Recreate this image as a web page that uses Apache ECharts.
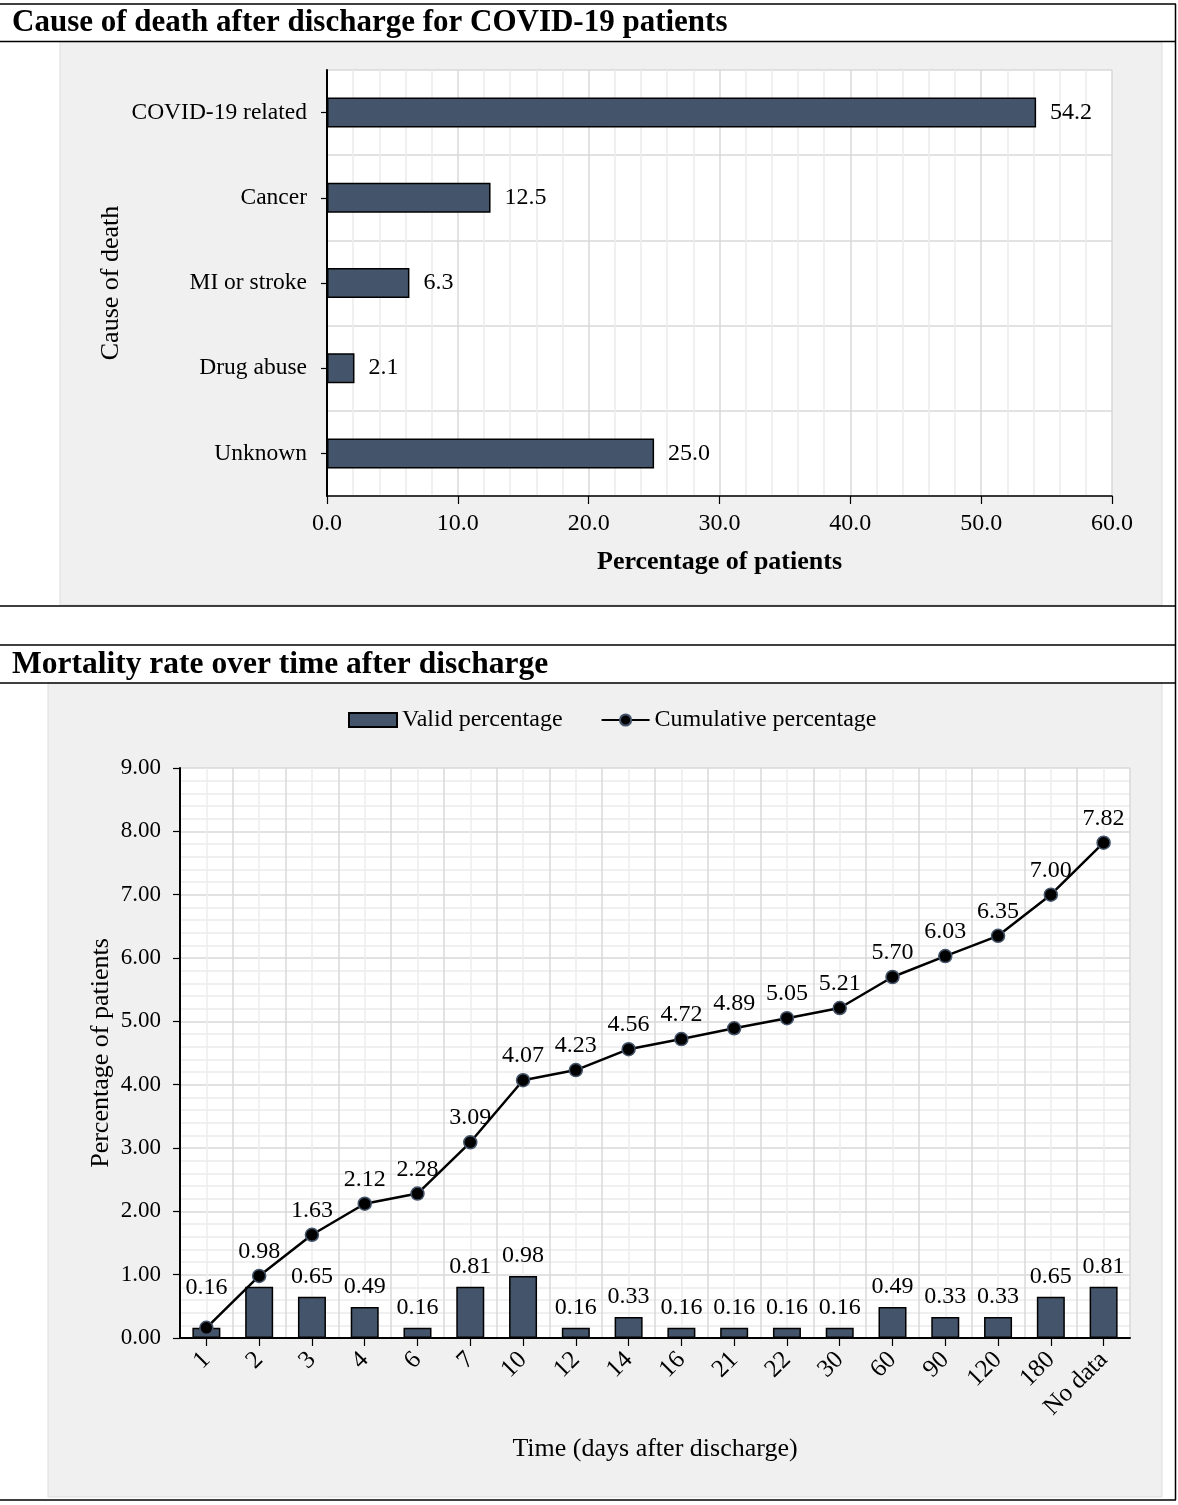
<!DOCTYPE html>
<html>
<head>
<meta charset="utf-8">
<script src="https://cdn.jsdelivr.net/npm/echarts@6/dist/echarts.min.js"></script>
<style>
html,body{margin:0;padding:0;background:#fff;}
#c{width:1178px;height:1505px;}
</style>
</head>
<body>
<div id="c"></div>
<script>
// ---- Data ----
const causeCategories = ['COVID-19 related', 'Cancer', 'MI or stroke', 'Drug abuse', 'Unknown'];
const causeValues = [54.2, 12.5, 6.3, 2.1, 25.0];
const causeTicks = [0, 10, 20, 30, 40, 50, 60];

const timeCategories = ['1', '2', '3', '4', '6', '7', '10', '12', '14', '16', '21', '22', '30', '60', '90', '120', '180', 'No data'];
const validPct = [0.16, 0.81, 0.65, 0.49, 0.16, 0.81, 0.98, 0.16, 0.33, 0.16, 0.16, 0.16, 0.16, 0.49, 0.33, 0.33, 0.65, 0.81];
const cumulativePct = [0.16, 0.98, 1.63, 2.12, 2.28, 3.09, 4.07, 4.23, 4.56, 4.72, 4.89, 5.05, 5.21, 5.70, 6.03, 6.35, 7.00, 7.82];
const mortalityTicks = [0, 1, 2, 3, 4, 5, 6, 7, 8, 9];

const FONT = '"Liberation Serif", "Times New Roman", serif';
const BAR = '#44546a';

const chart = echarts.init(document.getElementById('c'));

const barData = validPct.map((v, i) => {
  if (i === 0 || i === 1) return { value: v, label: { show: false } };
  return v;
});
const lineData = cumulativePct.map((v, i) => {
  if (i === 0) return { value: v, label: { distance: 21 } };
  return v;
});

const hline = (y) => ({ type: 'line', z: 100, shape: { x1: 0, y1: y, x2: 1176, y2: y }, style: { stroke: '#000', lineWidth: 1.5 } });

const option = {
  backgroundColor: '#fff',
  animation: false,
  textStyle: { fontFamily: FONT, color: '#000' },
  graphic: [
    { type: 'rect', z: -10, shape: { x: 60, y: 42, width: 1102, height: 563 }, style: { fill: '#f0f0f0', stroke: '#dddddd', lineWidth: 1 } },
    { type: 'rect', z: -10, shape: { x: 48, y: 683, width: 1114, height: 814 }, style: { fill: '#f0f0f0', stroke: '#dddddd', lineWidth: 1 } },
    hline(4), hline(41.5), hline(606), hline(645), hline(683), hline(1500),
    { type: 'line', z: 100, shape: { x1: 1175.5, y1: 4, x2: 1175.5, y2: 1500 }, style: { stroke: '#000', lineWidth: 1.5 } },
    { type: 'text', z: 100, left: 12, top: 7, style: { text: 'Cause of death after discharge for COVID-19 patients', font: 'bold 31px ' + FONT, fill: '#000' } },
    { type: 'text', z: 100, left: 12, top: 649, style: { text: 'Mortality rate over time after discharge', font: 'bold 31.5px ' + FONT, fill: '#000' } }
  ],
  legend: {
    data: [{ name: 'Valid percentage', icon: 'rect' }, { name: 'Cumulative percentage' }],
    left: 343, top: 703,
    itemWidth: 48, itemHeight: 14, itemGap: 38,
    textStyle: { fontFamily: FONT, fontSize: 24, color: '#000' }
  },
  grid: [
    { left: 327, top: 70, width: 785, height: 426, show: true, backgroundColor: '#fff', borderWidth: 0, containLabel: false },
    { left: 180, top: 768, width: 950, height: 570, show: true, backgroundColor: '#fff', borderWidth: 0, containLabel: false }
  ],
  xAxis: [
    {
      type: 'value', gridIndex: 0, min: causeTicks[0], max: causeTicks[causeTicks.length - 1], interval: 10,
      name: 'Percentage of patients', nameLocation: 'middle', nameGap: 53,
      nameTextStyle: { fontFamily: FONT, fontSize: 26, fontWeight: 'bold', color: '#000' },
      axisLine: { show: true, lineStyle: { color: '#000', width: 1.5 } },
      axisTick: { show: true, inside: false, length: 8, lineStyle: { color: '#000', width: 1.2 } },
      axisLabel: { fontFamily: FONT, fontSize: 24, color: '#000', margin: 16, formatter: v => v.toFixed(1) },
      splitLine: { show: true, lineStyle: { color: '#d9d9d9', width: 1.5 } },
      minorTick: { show: false, splitNumber: 5 },
      minorSplitLine: { show: true, lineStyle: { color: '#ececec', width: 1.5 } }
    },
    {
      type: 'category', gridIndex: 1, data: timeCategories,
      name: 'Time (days after discharge)', nameLocation: 'middle', nameGap: 98,
      nameTextStyle: { fontFamily: FONT, fontSize: 26, color: '#000' },
      axisLine: { show: true, lineStyle: { color: '#000', width: 2 } },
      axisTick: { show: true, alignWithLabel: true, length: 8, lineStyle: { color: '#000', width: 1.2 } },
      axisLabel: { fontFamily: FONT, fontSize: 25, color: '#000', rotate: 45, margin: 18, interval: 0 },
      splitLine: { show: false }
    },
    {
      type: 'value', gridIndex: 1, min: 0, max: timeCategories.length, interval: 0.5,
      show: true, position: 'top',
      axisLine: { show: false }, axisTick: { show: false }, axisLabel: { show: false },
      splitLine: { show: true, lineStyle: { color: ['#d9d9d9', '#ececec'], width: 1.5 } }
    }
  ],
  yAxis: [
    {
      type: 'category', gridIndex: 0, data: causeCategories, inverse: true,
      name: 'Cause of death', nameLocation: 'middle', nameGap: 203, nameMoveOverlap: false,
      nameTextStyle: { fontFamily: FONT, fontSize: 26, color: '#000' },
      axisLine: { show: true, lineStyle: { color: '#000', width: 2 } },
      axisTick: { show: true, alignWithLabel: true, length: 6, lineStyle: { color: '#000', width: 1.2 } },
      axisLabel: { fontFamily: FONT, fontSize: 23.5, color: '#000', margin: 20 },
      splitLine: { show: true, lineStyle: { color: '#d9d9d9', width: 1.5 } }
    },
    {
      type: 'value', gridIndex: 1, min: mortalityTicks[0], max: mortalityTicks[mortalityTicks.length - 1], interval: 1,
      name: 'Percentage of patients', nameLocation: 'middle', nameGap: 66, nameMoveOverlap: false,
      nameTextStyle: { fontFamily: FONT, fontSize: 26, color: '#000' },
      axisLine: { show: true, lineStyle: { color: '#000', width: 2 } },
      axisTick: { show: true, length: 7, lineStyle: { color: '#000', width: 1.2 } },
      axisLabel: { fontFamily: FONT, fontSize: 23, color: '#000', margin: 19, formatter: v => v.toFixed(2) },
      splitLine: { show: true, lineStyle: { color: '#d9d9d9', width: 1.5 } },
      minorTick: { show: false, splitNumber: 5 },
      minorSplitLine: { show: true, lineStyle: { color: '#ececec', width: 1.5 } }
    }
  ],
  series: [
    {
      type: 'bar', xAxisIndex: 0, yAxisIndex: 0, data: causeValues, barWidth: 30,
      itemStyle: { color: BAR, borderColor: '#000', borderWidth: 1.5 },
      label: { show: true, position: 'right', distance: 14, fontFamily: FONT, fontSize: 24, color: '#000', formatter: p => Number(p.value).toFixed(1) }
    },
    {
      name: 'Valid percentage', type: 'bar', xAxisIndex: 1, yAxisIndex: 1, data: barData, barWidth: 28,
      itemStyle: { color: BAR, borderColor: '#000', borderWidth: 1.5 },
      label: { show: true, position: 'top', distance: 8, fontFamily: FONT, fontSize: 24, color: '#000', formatter: p => Number(p.value).toFixed(2) }
    },
    {
      name: 'Cumulative percentage', type: 'line', xAxisIndex: 1, yAxisIndex: 1, data: lineData,
      symbol: 'circle', symbolSize: 13,
      lineStyle: { color: '#000', width: 2.5 },
      itemStyle: { color: '#000', borderColor: '#44546a', borderWidth: 1.5 },
      label: { show: true, position: 'top', distance: 5, fontFamily: FONT, fontSize: 24, color: '#000', formatter: p => Number(p.value).toFixed(2) },
      z: 5
    }
  ]
};
chart.setOption(option);
</script>
</body>
</html>
